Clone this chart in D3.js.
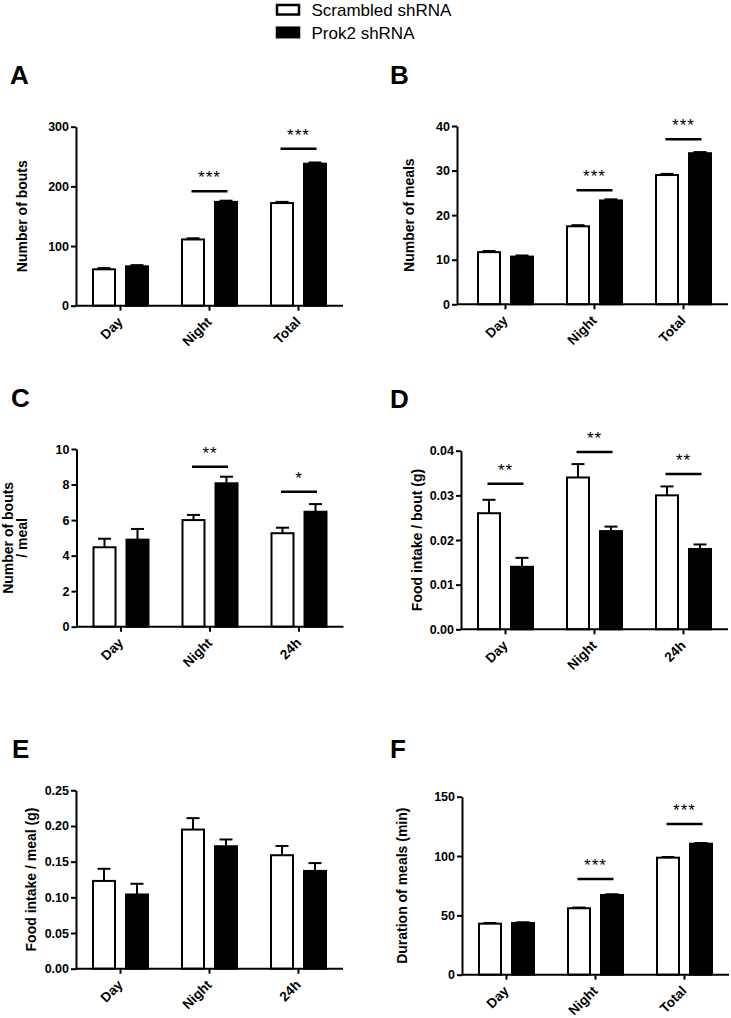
<!DOCTYPE html>
<html><head><meta charset="utf-8">
<script src="https://cdn.jsdelivr.net/npm/d3@7"></script>
<style>
body{margin:0;background:#fff;}
svg{display:block;font-family:Arial,"Liberation Sans",sans-serif;}
</style></head><body>
<svg id="c" width="731" height="1018"></svg>
<script>
// ---- data ----
const seriesNames = ["Scrambled shRNA", "Prok2 shRNA"];
const catsTotal = ["Day", "Night", "Total"];
const cats24h = ["Day", "Night", "24h"];

const boutsScr = [61, 111, 172], boutsScrErr = [2, 2, 2];
const boutsProk = [66, 174, 238], boutsProkErr = [2, 2, 2];
const boutsSig = [["Night", 192, "***"], ["Total", 263, "***"]];
const boutsTicks = [0, 100, 200, 300];

const mealsScr = [11.7, 17.5, 29.0], mealsScrErr = [0.25, 0.25, 0.25];
const mealsProk = [10.7, 23.3, 33.9], mealsProkErr = [0.25, 0.25, 0.25];
const mealsSig = [["Night", 25.6, "***"], ["Total", 37.0, "***"]];
const mealsTicks = [0, 10, 20, 30, 40];

const bpmScr = [4.47, 6.0, 5.26], bpmScrErr = [0.48, 0.29, 0.31];
const bpmProk = [4.9, 8.07, 6.47], bpmProkErr = [0.6, 0.37, 0.43];
const bpmSig = [["Night", 9.0, "**"], ["24h", 7.6, "*"]];
const bpmTicks = [0, 2, 4, 6, 8, 10];

const fibScr = [0.026, 0.034, 0.030], fibScrErr = [0.003, 0.003, 0.002];
const fibProk = [0.014, 0.022, 0.018], fibProkErr = [0.002, 0.001, 0.001];
const fibSig = [["Day", 0.0326, "**"], ["Night", 0.0397, "**"], ["24h", 0.0348, "**"]];
const fibTicks = [0, 0.01, 0.02, 0.03, 0.04];

const fimScr = [0.123, 0.195, 0.159], fimScrErr = [0.017, 0.016, 0.013];
const fimProk = [0.104, 0.1716, 0.137], fimProkErr = [0.015, 0.0095, 0.011];
const fimSig = [];
const fimTicks = [0, 0.05, 0.10, 0.15, 0.20, 0.25];

const durScr = [43.0, 56.0, 98.6], durScrErr = [0.6, 0.6, 0.6];
const durProk = [43.6, 67.2, 110.4], durProkErr = [0.6, 0.6, 0.6];
const durSig = [["Night", 80.6, "***"], ["Total", 127, "***"]];
const durTicks = [0, 50, 100, 150];

// ---- layout ----
const panels = [
  {letter:"A", lx:10, ly:84, axisX:76, bandX:76, y0:305.7, yTop:126.7, cats:catsTotal, scr:boutsScr, scrE:boutsScrErr, prok:boutsProk, prokE:boutsProkErr, sig:boutsSig, ticks:boutsTicks, fmt:d3.format("d"), title:["Number of bouts"], tx:[27]},
  {letter:"B", lx:390, ly:84, axisX:457, bandX:461, y0:304.3, yTop:126, cats:catsTotal, scr:mealsScr, scrE:mealsScrErr, prok:mealsProk, prokE:mealsProkErr, sig:mealsSig, ticks:mealsTicks, fmt:d3.format("d"), title:["Number of meals"], tx:[414]},
  {letter:"C", lx:11, ly:407, axisX:76.5, bandX:76.5, y0:626.7, yTop:449, cats:cats24h, scr:bpmScr, scrE:bpmScrErr, prok:bpmProk, prokE:bpmProkErr, sig:bpmSig, ticks:bpmTicks, fmt:d3.format("d"), title:["Number of bouts","/ meal"], tx:[13,27]},
  {letter:"D", lx:390, ly:408, axisX:461, bandX:461, y0:629.3, yTop:450.7, cats:cats24h, scr:fibScr, scrE:fibScrErr, prok:fibProk, prokE:fibProkErr, sig:fibSig, ticks:fibTicks, fmt:d3.format(".2f"), title:["Food intake / bout (g)"], tx:[422]},
  {letter:"E", lx:12, ly:758, axisX:76, bandX:76, y0:968.7, yTop:790.3, cats:cats24h, scr:fimScr, scrE:fimScrErr, prok:fimProk, prokE:fimProkErr, sig:fimSig, ticks:fimTicks, fmt:d3.format(".2f"), title:["Food intake / meal (g)"], tx:[36]},
  {letter:"F", lx:390, ly:758, axisX:462, bandX:462, y0:974.7, yTop:796.7, cats:catsTotal, scr:durScr, scrE:durScrErr, prok:durProk, prokE:durProkErr, sig:durSig, ticks:durTicks, fmt:d3.format("d"), title:["Duration of meals (min)"], tx:[407]}
];

const svg = d3.select("#c");
const SW = 2;

// legend
const leg = svg.append("g");
seriesNames.forEach((n, i) => {
  const yy = 5 + i * 22.7;
  leg.append("rect").attr("x", 277).attr("y", yy).attr("width", 22).attr("height", 9.5)
    .attr("fill", i ? "#000" : "#fff").attr("stroke", "#000").attr("stroke-width", 2.5);
  leg.append("text").attr("x", 311.5).attr("y", yy + 11).attr("font-size", 17).text(n);
});

panels.forEach(p => {
  const g = svg.append("g");
  const x = d3.scaleBand().domain(p.cats).range([p.bandX, p.bandX + 267]);
  const xs = d3.scaleBand().domain(["scr", "prok"]).range([17, 72]).paddingInner(1/3);
  const ymax = p.ticks[p.ticks.length - 1];
  const y = d3.scaleLinear().domain([0, ymax]).range([p.y0, p.yTop]);
  const c = d => x(d) + x.bandwidth() / 2;

  // panel letter
  g.append("text").attr("x", p.lx).attr("y", p.ly).attr("font-size", 26).attr("font-weight", "bold").text(p.letter);

  // y title
  const ym = (p.y0 + p.yTop) / 2;
  p.title.forEach((t, i) => {
    g.append("text").attr("transform", `translate(${p.tx[i]},${ym}) rotate(-90)`)
      .attr("text-anchor", "middle").attr("font-size", 14).attr("font-weight", "bold").text(t);
  });

  // bars
  const rows = p.cats.map((cat, i) => [
    {cat, s:"scr", v:p.scr[i], e:p.scrE[i]},
    {cat, s:"prok", v:p.prok[i], e:p.prokE[i]}
  ]).flat();

  // error bars (upward)
  rows.forEach(r => {
    const cx = x(r.cat) + xs(r.s) + xs.bandwidth() / 2;
    g.append("line").attr("x1", cx).attr("x2", cx).attr("y1", y(r.v)).attr("y2", y(r.v + r.e))
      .attr("stroke", "#000").attr("stroke-width", SW);
    g.append("line").attr("x1", cx - 6.5).attr("x2", cx + 6.5).attr("y1", y(r.v + r.e)).attr("y2", y(r.v + r.e))
      .attr("stroke", "#000").attr("stroke-width", SW);
  });

  g.selectAll("rect.bar").data(rows).join("rect").attr("class", "bar")
    .attr("x", r => x(r.cat) + xs(r.s))
    .attr("width", xs.bandwidth())
    .attr("y", r => y(r.v))
    .attr("height", r => y(0) - y(r.v))
    .attr("fill", r => r.s === "scr" ? "#fff" : "#000")
    .attr("stroke", "#000").attr("stroke-width", SW);

  // significance
  p.sig.forEach(([cat, v, lab]) => {
    const cc = c(cat);
    g.append("line").attr("x1", cc - 18).attr("x2", cc + 18).attr("y1", y(v)).attr("y2", y(v))
      .attr("stroke", "#000").attr("stroke-width", 2.5);
    g.append("text").attr("x", cc).attr("y", y(v) - 8).attr("text-anchor", "middle")
      .attr("font-size", 17).attr("letter-spacing", 1).text(lab);
  });

  // y axis
  const ya = g.append("g").attr("transform", `translate(${p.axisX},0)`)
    .call(d3.axisLeft(y).tickValues(p.ticks).tickFormat(p.fmt).tickSize(5).tickPadding(2).tickSizeOuter(0));
  ya.select(".domain").attr("stroke-width", SW);
  ya.selectAll(".tick line").attr("stroke-width", SW);
  ya.selectAll(".tick text").attr("font-size", 12.5).attr("font-weight", "bold")
    .attr("font-family", "Arial, 'Liberation Sans', sans-serif").attr("fill", "#000");

  // x axis
  const xa = g.append("g").attr("transform", `translate(0,${p.y0})`)
    .call(d3.axisBottom(x).tickSize(5).tickSizeOuter(0));
  xa.select(".domain").attr("stroke-width", SW).attr("d", `M${p.axisX},0H${p.bandX + 267}`);
  xa.selectAll(".tick line").attr("stroke-width", SW);
  xa.selectAll(".tick text").attr("font-size", 13.5).attr("font-weight", "bold")
    .attr("font-family", "Arial, 'Liberation Sans', sans-serif").attr("fill", "#000")
    .attr("text-anchor", "end").attr("dy", null)
    .attr("transform", "translate(3,17) rotate(-45)").attr("x", 0).attr("y", 0);
});
</script></body></html>
